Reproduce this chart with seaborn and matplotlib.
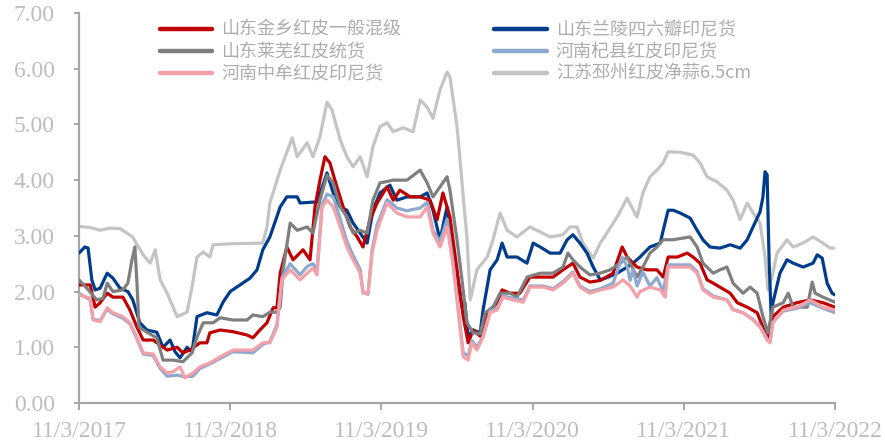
import pandas as pd
import matplotlib
matplotlib.use("Agg")
import matplotlib.pyplot as plt
import seaborn as sns

# series: (date, price)
jinxiang = [("2017-11-03", 2.12), ("2017-11-30", 2.12), ("2017-12-12", 1.72), ("2017-12-24", 1.80),
            ("2018-01-10", 1.97), ("2018-01-24", 1.90), ("2018-02-17", 1.90), ("2018-03-06", 1.67),
            ("2018-03-23", 1.36), ("2018-04-07", 1.13), ("2018-05-01", 1.13), ("2018-05-18", 1.04),
            ("2018-06-04", 0.95), ("2018-06-28", 1.00), ("2018-07-12", 0.90), ("2018-07-29", 0.95),
            ("2018-08-22", 1.08), ("2018-09-08", 1.08), ("2018-09-15", 1.26), ("2018-10-10", 1.31),
            ("2018-11-10", 1.28), ("2018-12-14", 1.22), ("2018-12-28", 1.17), ("2019-01-14", 1.31),
            ("2019-01-31", 1.44), ("2019-02-15", 1.71), ("2019-02-24", 1.71), ("2019-03-04", 2.33),
            ("2019-03-20", 2.80), ("2019-04-04", 2.57), ("2019-04-28", 2.75), ("2019-05-15", 2.57),
            ("2019-05-27", 3.52), ("2019-06-08", 4.00), ("2019-06-20", 4.42), ("2019-07-02", 4.31),
            ("2019-07-14", 4.00), ("2019-08-03", 3.52), ("2019-08-20", 3.16), ("2019-09-06", 2.98),
            ("2019-09-20", 2.80), ("2019-10-07", 3.29), ("2019-10-24", 3.59), ("2019-11-17", 3.88),
            ("2019-12-02", 3.64), ("2019-12-18", 3.82), ("2020-01-12", 3.70), ("2020-02-05", 3.70),
            ("2020-02-29", 3.64), ("2020-03-17", 3.29), ("2020-03-31", 3.77), ("2020-04-17", 3.34),
            ("2020-05-04", 2.39), ("2020-05-19", 1.55), ("2020-05-31", 1.08), ("2020-06-12", 1.31),
            ("2020-06-29", 1.20), ("2020-07-16", 1.62), ("2020-08-09", 1.80), ("2020-08-21", 2.03),
            ("2020-09-09", 1.97), ("2020-10-03", 1.97), ("2020-10-27", 2.26), ("2020-12-22", 2.26),
            ("2021-01-15", 2.39), ("2021-02-08", 2.51), ("2021-02-25", 2.26), ("2021-03-21", 2.17),
            ("2021-04-15", 2.20), ("2021-05-16", 2.33), ("2021-06-07", 2.80), ("2021-06-19", 2.62),
            ("2021-07-03", 2.51), ("2021-07-13", 2.44), ("2021-08-06", 2.39), ("2021-08-30", 2.39),
            ("2021-09-14", 2.26), ("2021-09-26", 2.62), ("2021-10-18", 2.62), ("2021-11-11", 2.69),
            ("2021-11-25", 2.62), ("2021-12-12", 2.51), ("2021-12-29", 2.21), ("2022-01-13", 2.15),
            ("2022-01-29", 2.08), ("2022-02-23", 1.97), ("2022-03-12", 1.80), ("2022-04-05", 1.72),
            ("2022-04-29", 1.62), ("2022-05-13", 1.36), ("2022-05-25", 1.13), ("2022-06-06", 1.55),
            ("2022-07-01", 1.72), ("2022-08-03", 1.80), ("2022-09-04", 1.85), ("2022-10-05", 1.80),
            ("2022-11-03", 1.72)]

lanling = [("2017-11-03", 2.69), ("2017-11-17", 2.80), ("2017-11-25", 2.78), ("2017-12-04", 2.21),
           ("2017-12-12", 2.03), ("2017-12-24", 2.06), ("2018-01-10", 2.33), ("2018-01-24", 2.24),
           ("2018-02-10", 2.06), ("2018-03-01", 2.00), ("2018-03-13", 1.85), ("2018-03-30", 1.44),
           ("2018-04-16", 1.31), ("2018-05-10", 1.27), ("2018-05-25", 1.00), ("2018-06-11", 1.13),
           ("2018-06-23", 0.92), ("2018-07-05", 0.81), ("2018-07-22", 1.00), ("2018-08-03", 0.92),
           ("2018-08-15", 1.55), ("2018-09-08", 1.62), ("2018-10-02", 1.58), ("2018-10-17", 1.81),
           ("2018-11-03", 2.00), ("2018-11-27", 2.12), ("2018-12-21", 2.24), ("2019-01-07", 2.39),
           ("2019-01-21", 2.75), ("2019-02-07", 2.98), ("2019-03-04", 3.52), ("2019-03-20", 3.70),
           ("2019-04-14", 3.70), ("2019-04-21", 3.59), ("2019-06-01", 3.61), ("2019-06-15", 3.91),
           ("2019-06-25", 4.13), ("2019-07-10", 3.77), ("2019-07-27", 3.52), ("2019-08-12", 3.46),
           ("2019-08-27", 3.23), ("2019-09-13", 3.05), ("2019-09-30", 2.87), ("2019-10-14", 3.46),
           ("2019-10-31", 3.77), ("2019-11-24", 3.91), ("2019-12-11", 3.64), ("2020-01-04", 3.70),
           ("2020-02-05", 3.70), ("2020-02-22", 3.77), ("2020-03-07", 3.46), ("2020-03-24", 2.93),
           ("2020-04-10", 3.52), ("2020-04-24", 2.75), ("2020-05-04", 2.33), ("2020-05-16", 1.72),
           ("2020-05-23", 1.80), ("2020-05-31", 1.18), ("2020-06-12", 1.31), ("2020-06-29", 1.26),
           ("2020-07-06", 1.67), ("2020-07-23", 2.39), ("2020-08-09", 2.57), ("2020-08-21", 2.87),
           ("2020-09-02", 2.62), ("2020-09-26", 2.62), ("2020-10-20", 2.51), ("2020-11-04", 2.87),
           ("2020-11-21", 2.80), ("2020-12-15", 2.69), ("2021-01-08", 2.69), ("2021-01-25", 2.93),
           ("2021-02-08", 3.02), ("2021-02-25", 2.87), ("2021-03-14", 2.69), ("2021-03-29", 2.44),
           ("2021-04-15", 2.21), ("2021-05-01", 2.25), ("2021-05-26", 2.33), ("2021-06-19", 2.44),
           ("2021-07-03", 2.51), ("2021-07-20", 2.62), ("2021-08-13", 2.80), ("2021-09-07", 2.87),
           ("2021-09-14", 3.10), ("2021-09-26", 3.46), ("2021-10-08", 3.46), ("2021-10-25", 3.41),
           ("2021-11-18", 3.32), ("2021-12-05", 3.10), ("2021-12-19", 2.93), ("2022-01-05", 2.80),
           ("2022-01-29", 2.78), ("2022-02-23", 2.84), ("2022-03-19", 2.78), ("2022-04-05", 2.93),
           ("2022-04-19", 3.16), ("2022-05-06", 3.43), ("2022-05-13", 3.70), ("2022-05-18", 4.15),
           ("2022-05-23", 4.10), ("2022-05-28", 2.51), ("2022-06-02", 1.55), ("2022-06-06", 1.80),
           ("2022-06-23", 2.33), ("2022-07-10", 2.57), ("2022-07-25", 2.51), ("2022-08-18", 2.44),
           ("2022-09-11", 2.51), ("2022-09-21", 2.66), ("2022-10-03", 2.60), ("2022-10-15", 2.15),
           ("2022-10-27", 1.97), ("2022-11-03", 1.94)]

laiwu = [("2017-11-03", 2.21), ("2017-11-22", 2.06), ("2017-12-16", 1.85), ("2017-12-31", 1.88),
         ("2018-01-10", 2.15), ("2018-01-24", 2.00), ("2018-02-17", 2.03), ("2018-03-01", 2.15),
         ("2018-03-11", 2.57), ("2018-03-18", 2.80), ("2018-03-23", 2.15), ("2018-03-28", 1.36),
         ("2018-04-16", 1.27), ("2018-05-10", 1.17), ("2018-05-25", 0.77), ("2018-06-18", 0.77),
         ("2018-07-12", 0.74), ("2018-08-03", 0.90), ("2018-08-15", 1.18), ("2018-08-30", 1.44),
         ("2018-09-23", 1.44), ("2018-10-10", 1.53), ("2018-11-10", 1.49), ("2018-12-14", 1.49),
         ("2018-12-28", 1.58), ("2019-01-21", 1.55), ("2019-02-07", 1.63), ("2019-02-24", 1.63),
         ("2019-03-04", 1.72), ("2019-03-11", 2.39), ("2019-03-28", 3.23), ("2019-04-14", 3.10),
         ("2019-05-08", 3.16), ("2019-05-22", 3.05), ("2019-06-08", 3.64), ("2019-06-25", 4.09),
         ("2019-07-10", 3.95), ("2019-07-27", 3.52), ("2019-08-12", 3.34), ("2019-08-27", 3.05),
         ("2019-09-13", 3.10), ("2019-09-30", 3.05), ("2019-10-14", 3.64), ("2019-10-31", 3.95),
         ("2019-12-02", 4.00), ("2020-01-04", 4.00), ("2020-02-05", 4.18), ("2020-02-22", 3.95),
         ("2020-03-07", 3.70), ("2020-03-24", 3.88), ("2020-04-10", 4.06), ("2020-04-17", 3.82),
         ("2020-05-04", 2.93), ("2020-05-16", 2.21), ("2020-05-28", 1.44), ("2020-06-12", 1.26),
         ("2020-06-29", 1.24), ("2020-07-11", 1.62), ("2020-07-30", 1.72), ("2020-08-16", 1.97),
         ("2020-09-09", 1.97), ("2020-09-26", 1.90), ("2020-10-20", 2.26), ("2020-11-21", 2.33),
         ("2020-12-22", 2.33), ("2021-01-15", 2.44), ("2021-01-27", 2.69), ("2021-02-08", 2.57),
         ("2021-02-25", 2.44), ("2021-03-21", 2.30), ("2021-04-15", 2.33), ("2021-05-09", 2.39),
         ("2021-06-02", 2.51), ("2021-06-19", 2.62), ("2021-06-26", 2.51), ("2021-07-13", 2.26),
         ("2021-07-27", 2.44), ("2021-08-13", 2.69), ("2021-08-30", 2.80), ("2021-09-14", 2.93),
         ("2021-10-08", 2.93), ("2021-11-01", 2.96), ("2021-11-18", 2.98), ("2021-12-05", 2.80),
         ("2021-12-19", 2.51), ("2022-01-13", 2.33), ("2022-01-29", 2.39), ("2022-02-15", 2.44),
         ("2022-03-02", 2.15), ("2022-03-26", 1.97), ("2022-04-12", 2.08), ("2022-04-29", 1.97),
         ("2022-05-13", 1.55), ("2022-05-25", 1.26), ("2022-06-06", 1.72), ("2022-07-01", 1.80),
         ("2022-07-13", 1.97), ("2022-07-25", 1.72), ("2022-08-28", 1.72), ("2022-09-09", 2.17),
         ("2022-09-16", 1.97), ("2022-10-05", 1.90), ("2022-11-03", 1.81)]

qixian = [("2017-11-03", 1.97), ("2017-11-30", 1.85), ("2017-12-07", 1.50), ("2017-12-24", 1.48),
          ("2018-01-10", 1.68), ("2018-01-24", 1.60), ("2018-02-17", 1.52), ("2018-03-06", 1.42),
          ("2018-03-23", 1.15), ("2018-04-07", 0.88), ("2018-05-01", 0.85), ("2018-05-18", 0.62),
          ("2018-06-04", 0.48), ("2018-06-28", 0.50), ("2018-07-17", 0.47), ("2018-08-05", 0.48),
          ("2018-08-22", 0.62), ("2018-09-15", 0.70), ("2018-10-10", 0.80), ("2018-11-10", 0.92),
          ("2018-12-28", 0.90), ("2019-01-21", 1.05), ("2019-02-07", 1.10), ("2019-02-24", 1.40),
          ("2019-03-08", 2.25), ("2019-03-28", 2.50), ("2019-04-21", 2.30), ("2019-05-08", 2.45),
          ("2019-05-22", 2.50), ("2019-06-01", 2.40), ("2019-06-13", 3.55), ("2019-06-25", 3.75),
          ("2019-07-10", 3.70), ("2019-07-27", 3.30), ("2019-08-12", 2.90), ("2019-08-27", 2.65),
          ("2019-09-13", 2.40), ("2019-09-20", 2.00), ("2019-10-02", 1.95), ("2019-10-12", 2.75),
          ("2019-10-24", 3.20), ("2019-11-17", 3.65), ("2019-12-11", 3.50), ("2020-01-04", 3.45),
          ("2020-02-05", 3.50), ("2020-02-22", 3.60), ("2020-03-07", 3.10), ("2020-03-24", 2.90),
          ("2020-04-10", 3.30), ("2020-04-24", 2.55), ("2020-05-06", 1.75), ("2020-05-19", 0.90),
          ("2020-05-31", 0.85), ("2020-06-09", 1.12), ("2020-06-21", 1.00), ("2020-07-06", 1.20),
          ("2020-07-23", 1.65), ("2020-08-09", 1.70), ("2020-08-23", 1.92), ("2020-09-16", 1.88),
          ("2020-10-11", 1.85), ("2020-10-27", 2.10), ("2020-11-28", 2.10), ("2020-12-22", 2.05),
          ("2021-01-15", 2.18), ("2021-02-08", 2.35), ("2021-02-25", 2.10), ("2021-03-21", 2.00),
          ("2021-04-15", 2.05), ("2021-05-16", 2.15), ("2021-06-07", 2.62), ("2021-06-19", 2.45),
          ("2021-06-26", 2.20), ("2021-07-03", 2.39), ("2021-07-13", 2.10), ("2021-07-27", 2.35),
          ("2021-08-13", 2.10), ("2021-08-30", 2.25), ("2021-09-14", 2.00), ("2021-09-26", 2.48),
          ("2021-11-18", 2.48), ("2021-12-05", 2.36), ("2021-12-19", 2.05), ("2022-01-13", 1.92),
          ("2022-02-15", 1.85), ("2022-03-02", 1.68), ("2022-03-26", 1.62), ("2022-04-19", 1.50),
          ("2022-05-06", 1.38), ("2022-05-23", 1.15), ("2022-05-30", 1.10), ("2022-06-06", 1.45),
          ("2022-07-01", 1.65), ("2022-08-03", 1.70), ("2022-09-04", 1.80), ("2022-10-05", 1.70),
          ("2022-11-03", 1.62)]

zhongmou = [("2017-11-03", 1.94), ("2017-11-30", 1.88), ("2017-12-07", 1.49), ("2017-12-24", 1.46),
            ("2018-01-10", 1.71), ("2018-01-24", 1.62), ("2018-02-17", 1.55), ("2018-03-06", 1.44),
            ("2018-03-23", 1.18), ("2018-04-07", 0.90), ("2018-05-01", 0.88), ("2018-05-18", 0.65),
            ("2018-06-04", 0.54), ("2018-06-18", 0.56), ("2018-07-05", 0.65), ("2018-07-17", 0.45),
            ("2018-08-05", 0.54), ("2018-08-22", 0.65), ("2018-09-15", 0.72), ("2018-10-10", 0.83),
            ("2018-11-10", 0.95), ("2018-12-28", 0.95), ("2019-01-21", 1.08), ("2019-02-07", 1.08),
            ("2019-02-24", 1.36), ("2019-03-08", 2.21), ("2019-03-28", 2.39), ("2019-04-21", 2.21),
            ("2019-05-08", 2.33), ("2019-05-22", 2.42), ("2019-06-01", 2.30), ("2019-06-13", 3.52),
            ("2019-06-25", 3.64), ("2019-07-10", 3.52), ("2019-07-27", 3.16), ("2019-08-12", 2.80),
            ("2019-08-27", 2.57), ("2019-09-13", 2.33), ("2019-09-20", 1.97), ("2019-10-02", 1.97),
            ("2019-10-12", 2.69), ("2019-10-24", 3.10), ("2019-11-17", 3.59), ("2019-12-11", 3.41),
            ("2020-01-04", 3.34), ("2020-02-05", 3.34), ("2020-02-22", 3.52), ("2020-03-07", 3.05),
            ("2020-03-24", 2.80), ("2020-04-10", 3.16), ("2020-04-24", 2.51), ("2020-05-06", 1.72),
            ("2020-05-19", 0.83), ("2020-05-31", 0.77), ("2020-06-09", 1.08), ("2020-06-21", 0.95),
            ("2020-07-06", 1.18), ("2020-07-23", 1.62), ("2020-08-09", 1.67), ("2020-08-23", 1.90),
            ("2020-09-16", 1.85), ("2020-10-11", 1.81), ("2020-10-27", 2.08), ("2020-11-28", 2.08),
            ("2020-12-22", 2.03), ("2021-01-15", 2.15), ("2021-02-08", 2.33), ("2021-02-25", 2.08),
            ("2021-03-21", 1.97), ("2021-04-15", 2.03), ("2021-05-16", 2.08), ("2021-06-09", 2.21),
            ("2021-06-26", 2.10), ("2021-07-13", 1.90), ("2021-07-20", 2.00), ("2021-08-13", 2.08),
            ("2021-09-07", 2.03), ("2021-09-19", 1.90), ("2021-09-26", 2.44), ("2021-10-25", 2.44),
            ("2021-11-18", 2.44), ("2021-12-05", 2.33), ("2021-12-19", 2.03), ("2022-01-13", 1.90),
            ("2022-02-15", 1.85), ("2022-03-02", 1.67), ("2022-03-26", 1.62), ("2022-04-19", 1.49),
            ("2022-05-06", 1.36), ("2022-05-23", 1.13), ("2022-05-30", 1.08), ("2022-06-06", 1.44),
            ("2022-07-01", 1.67), ("2022-08-03", 1.72), ("2022-09-04", 1.85), ("2022-10-05", 1.72),
            ("2022-11-03", 1.67)]

pizhou = [("2017-11-03", 3.17), ("2017-11-30", 3.15), ("2017-12-24", 3.10), ("2018-01-17", 3.14),
          ("2018-02-10", 3.13), ("2018-03-13", 2.98), ("2018-03-23", 2.84), ("2018-04-07", 2.66),
          ("2018-04-24", 2.51), ("2018-05-06", 2.75), ("2018-05-18", 2.21), ("2018-06-04", 1.97),
          ("2018-06-28", 1.55), ("2018-07-22", 1.63), ("2018-08-03", 2.08), ("2018-08-15", 2.62),
          ("2018-08-30", 2.71), ("2018-09-15", 2.62), ("2018-09-23", 2.84), ("2018-11-10", 2.86),
          ("2019-01-21", 2.87), ("2019-01-31", 3.16), ("2019-02-07", 3.59), ("2019-03-04", 4.18),
          ("2019-04-02", 4.76), ("2019-04-14", 4.42), ("2019-05-08", 4.67), ("2019-05-22", 4.42),
          ("2019-06-08", 4.78), ("2019-06-25", 5.40), ("2019-07-07", 5.26), ("2019-07-27", 4.72),
          ("2019-08-12", 4.42), ("2019-08-27", 4.24), ("2019-09-13", 4.42), ("2019-09-30", 4.06),
          ("2019-10-14", 4.60), ("2019-10-31", 4.96), ("2019-11-17", 5.03), ("2019-12-02", 4.87),
          ("2019-12-26", 4.94), ("2020-01-19", 4.87), ("2020-02-05", 5.44), ("2020-02-22", 5.31),
          ("2020-03-07", 5.11), ("2020-03-24", 5.62), ("2020-04-10", 5.94), ("2020-04-17", 5.85),
          ("2020-04-24", 5.49), ("2020-05-04", 4.96), ("2020-05-11", 4.40), ("2020-05-19", 3.70),
          ("2020-05-28", 2.98), ("2020-06-05", 1.85), ("2020-06-12", 2.08), ("2020-06-21", 2.39),
          ("2020-07-16", 2.62), ("2020-07-30", 2.93), ("2020-08-16", 3.41), ("2020-09-02", 3.10),
          ("2020-09-26", 2.98), ("2020-10-27", 3.16), ("2020-11-21", 3.07), ("2020-12-15", 2.98),
          ("2021-01-15", 3.02), ("2021-02-01", 3.16), ("2021-02-18", 3.16), ("2021-03-04", 2.87),
          ("2021-03-29", 2.60), ("2021-04-15", 2.87), ("2021-05-01", 3.05), ("2021-05-26", 3.34),
          ("2021-06-19", 3.68), ("2021-07-03", 3.47), ("2021-07-13", 3.34), ("2021-07-27", 3.77),
          ("2021-08-13", 4.06), ("2021-08-30", 4.18), ("2021-09-14", 4.31), ("2021-09-26", 4.51),
          ("2021-10-25", 4.50), ("2021-11-25", 4.45), ("2021-12-12", 4.31), ("2021-12-29", 4.06),
          ("2022-01-22", 3.97), ("2022-02-15", 3.82), ("2022-03-02", 3.64), ("2022-03-19", 3.29),
          ("2022-04-05", 3.59), ("2022-04-19", 3.41), ("2022-05-06", 3.23), ("2022-05-18", 2.62),
          ("2022-05-25", 2.03), ("2022-06-04", 2.26), ("2022-06-16", 2.69), ("2022-07-10", 2.93),
          ("2022-07-25", 2.80), ("2022-08-18", 2.87), ("2022-09-11", 2.98), ("2022-10-05", 2.87),
          ("2022-10-22", 2.78), ("2022-11-03", 2.78)]

# legend order (two columns, filled column by column)
labels = ["山东金乡红皮一般混级", "山东莱芜红皮统货", "河南中牟红皮印尼货",
          "山东兰陵四六瓣印尼货", "河南杞县红皮印尼货", "江苏邳州红皮净蒜6.5cm"]
series = [jinxiang, laiwu, zhongmou, lanling, qixian, pizhou]
colors = ["#C00000", "#7F7F7F", "#F4A0A8", "#003C8C", "#8EA9CE", "#C4C4C4"]
zorders = [4, 5, 7, 3, 6, 2]

tick_dates = ["2017-11-03", "2018-11-03", "2019-11-03", "2020-11-03", "2021-11-03", "2022-11-03"]
tick_labels = ["11/3/2017", "11/3/2018", "11/3/2019", "11/3/2020", "11/3/2021", "11/3/2022"]
y_ticks = [0, 1, 2, 3, 4, 5, 6, 7]

sns.set_style("white")
plt.rcParams["font.family"] = ["Liberation Serif", "DejaVu Serif"]

fig = plt.figure(figsize=(8.85, 4.45), dpi=100)
ax = fig.add_axes([79 / 885, 1 - 403 / 445, (835 - 79) / 885, (403 - 13) / 445])

for data, lab, col, z in zip(series, labels, colors, zorders):
    df = pd.DataFrame(data, columns=["date", "price"])
    df["date"] = pd.to_datetime(df["date"])
    sns.lineplot(data=df, x="date", y="price", ax=ax, color=col, linewidth=2.3,
                 label=lab, zorder=z, estimator=None, sort=False)

ax.set_xlim(pd.Timestamp(tick_dates[0]), pd.Timestamp(tick_dates[-1]))
ax.set_ylim(0, 7)
ax.set_xticks(pd.to_datetime(tick_dates))
ax.set_xticklabels(tick_labels)
ax.set_yticks(y_ticks)
ax.set_yticklabels([f"{v:.2f}" for v in y_ticks])
ax.set_xlabel("")
ax.set_ylabel("")

axis_grey = "#A6A6A6"
text_grey = "#BDBDBD"
for side in ["top", "right"]:
    ax.spines[side].set_visible(False)
for side in ["left", "bottom"]:
    ax.spines[side].set_color(axis_grey)
    ax.spines[side].set_linewidth(1.6)
ax.tick_params(axis="x", direction="out", length=5, width=1.4, color=axis_grey,
               labelsize=17, labelcolor=text_grey, pad=8, bottom=True)
ax.tick_params(axis="y", direction="out", length=3.5, width=1.4, color=axis_grey,
               labelsize=17, labelcolor=text_grey, pad=14, left=True)

leg = ax.legend(loc="upper left", bbox_to_anchor=(160 / 885, 1 - 21 / 445),
                bbox_transform=fig.transFigure, ncol=2, frameon=False,
                prop={"family": ["Noto Sans CJK SC", "DejaVu Sans"], "size": 13},
                handlelength=2.9, handletextpad=0.5, labelspacing=0.22,
                columnspacing=5.15, borderpad=0, borderaxespad=0)
for t in leg.get_texts():
    t.set_color("#ADADAD")
for h in leg.legend_handles:
    h.set_linewidth(3.2)

fig.savefig("out.png", dpi=100)
